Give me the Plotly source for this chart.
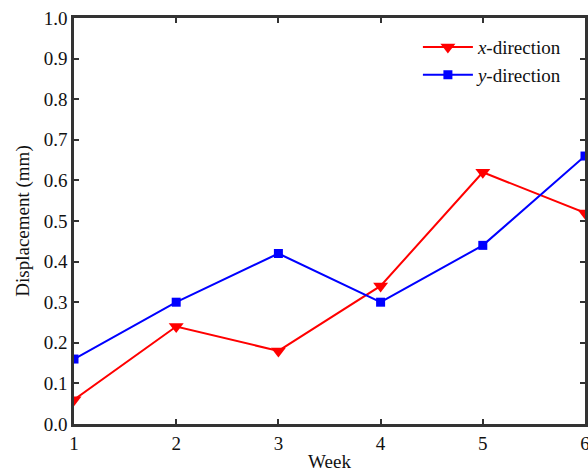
import plotly.graph_objects as go

weeks = [1, 2, 3, 4, 5, 6]
x_direction = [0.06, 0.24, 0.18, 0.34, 0.62, 0.52]
y_direction = [0.16, 0.30, 0.42, 0.30, 0.44, 0.66]
y_ticks = [0.0, 0.1, 0.2, 0.3, 0.4, 0.5, 0.6, 0.7, 0.8, 0.9, 1.0]

SERIF = "Liberation Serif, Times New Roman, serif"

fig = go.Figure()
fig.add_trace(go.Scatter(
    x=weeks, y=x_direction, mode="lines+markers", name="<i>x</i>-direction",
    line=dict(color="#ff0000", width=2),
    marker=dict(symbol="triangle-down", size=13, color="#ff0000"),
))
fig.add_trace(go.Scatter(
    x=weeks, y=y_direction, mode="lines+markers", name="<i>y</i>-direction",
    line=dict(color="#0000ff", width=2),
    marker=dict(symbol="square", size=9, color="#0000ff"),
))

axis_common = dict(
    showline=True, linecolor="#333333", linewidth=2.5, mirror="ticks",
    ticks="inside", ticklen=5, tickwidth=2, tickcolor="#333333",
    showgrid=False, zeroline=False, automargin=False,
    ticklabeloverflow="allow",
    tickfont=dict(family=SERIF, size=19, color="#111111"),
)

fig.update_layout(
    width=588, height=472,
    margin=dict(l=74, r=3, t=18, b=48),
    plot_bgcolor="white", paper_bgcolor="white",
    font=dict(family=SERIF, size=19, color="#111111"),
    xaxis=dict(range=[1, 6], tickvals=weeks,
               title=dict(text="Week", standoff=5, font=dict(family=SERIF, size=19)), **axis_common),
    yaxis=dict(range=[0, 1.0], tickvals=y_ticks, tickformat=".1f",
               title=dict(text="Displacement (mm)", standoff=10, font=dict(family=SERIF, size=19)), **axis_common),
    legend=dict(x=0.673, y=0.975, xanchor="left", yanchor="top", bgcolor="rgba(0,0,0,0)",
                font=dict(family=SERIF, size=19), tracegroupgap=0, itemwidth=50),
    showlegend=True,
)

fig.write_html(
    "out.html",
    config={"displayModeBar": False},
    post_script="document.body.style.margin='0';document.body.style.overflow='hidden';",
)
